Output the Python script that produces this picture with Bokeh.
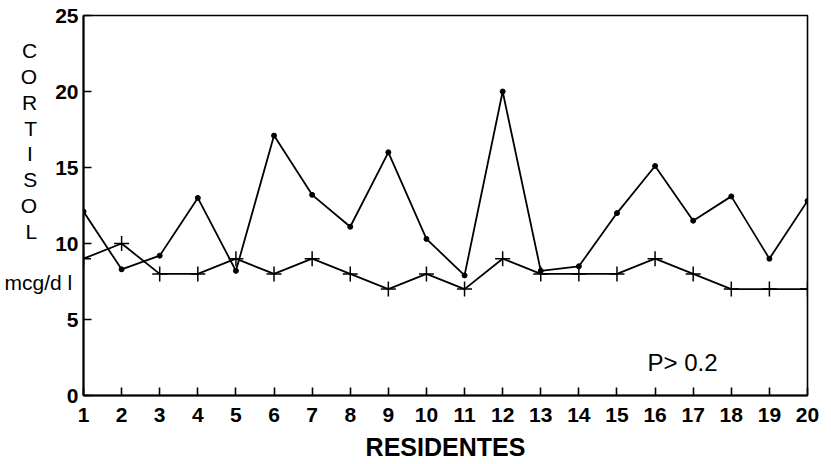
from bokeh.plotting import figure
from bokeh.models import FixedTicker, Label
from bokeh.embed import file_html
from bokeh.resources import INLINE

# ---- data ----
residentes = list(range(1, 21))
cortisol_dot = [12.1, 8.3, 9.2, 13.0, 8.2, 17.1, 13.2, 11.1, 16.0, 10.3,
                7.9, 20.0, 8.2, 8.5, 12.0, 15.1, 11.5, 13.1, 9.0, 12.8]
cortisol_cross = [9, 10, 8, 8, 9, 8, 9, 8, 7, 8,
                  7, 9, 8, 8, 8, 9, 8, 7, 7, 7]
x_ticks = list(range(1, 21))
y_ticks = [0, 5, 10, 15, 20, 25]
y_title_letters = ["C", "O", "R", "T", "I", "S", "O", "L"]
y_unit = "mcg/d l"

FONT = "Liberation Sans"

p = figure(width=831, height=464, x_range=(1, 20), y_range=(0, 25),
           output_backend="svg", toolbar_location=None,
           min_border_left=83, min_border_right=24,
           min_border_top=15, min_border_bottom=69)

p.background_fill_color = "white"
p.border_fill_color = "white"
p.outline_line_color = "black"
p.outline_line_width = 1.6
p.xgrid.visible = False
p.ygrid.visible = False

for ax in (p.xaxis[0], p.yaxis[0]):
    ax.axis_line_color = "black"
    ax.axis_line_width = 2
    ax.major_tick_in = 8
    ax.major_tick_out = 0
    ax.major_tick_line_color = "black"
    ax.major_tick_line_width = 1.6
    ax.minor_tick_line_color = None
    ax.major_label_text_font = FONT
    ax.major_label_text_font_style = "bold"
    ax.major_label_text_font_size = "21px"
    ax.major_label_text_color = "black"

xa = p.xaxis[0]
ya = p.yaxis[0]
xa.ticker = FixedTicker(ticks=x_ticks)
ya.ticker = FixedTicker(ticks=y_ticks)
xa.major_label_standoff = 12
ya.major_label_standoff = 5

xa.axis_label = "RESIDENTES"
xa.axis_label_text_font = FONT
xa.axis_label_text_font_style = "bold"
xa.axis_label_text_font_size = "25px"
xa.axis_label_text_color = "black"
xa.axis_label_standoff = 8

# stacked vertical title (right-aligned lines padded so letters sit in a column)
NB = "\u00a0"
pad = {"I": NB * 6 + "\u2009"}
lines = [ch + pad.get(ch, NB * 6) for ch in y_title_letters]
lines += [NB, y_unit, NB, NB, NB]
ya.axis_label = "\n".join(lines)
ya.axis_label_orientation = "horizontal"
ya.axis_label_text_font = FONT
ya.axis_label_text_font_style = "normal"
ya.axis_label_text_font_size = "21px"
ya.axis_label_text_line_height = 1.12
ya.axis_label_text_color = "black"
ya.axis_label_standoff = -20

# series with dots
p.line(residentes, cortisol_dot, line_color="black", line_width=1.8)
p.scatter(residentes, cortisol_dot, marker="circle", size=5,
          fill_color="black", line_color="black")

# series with crosses
p.line(residentes, cortisol_cross, line_color="black", line_width=1.8)
p.scatter(residentes, cortisol_cross, marker="cross", size=15,
          line_color="black", line_width=1.5)

p.add_layout(Label(x=564, y=33, x_units="screen", y_units="screen",
                   text="P> 0.2", text_font=FONT, text_font_size="24px",
                   text_align="left", text_baseline="alphabetic",
                   text_color="black"))

open("out.html", "w").write(file_html(p, INLINE))
